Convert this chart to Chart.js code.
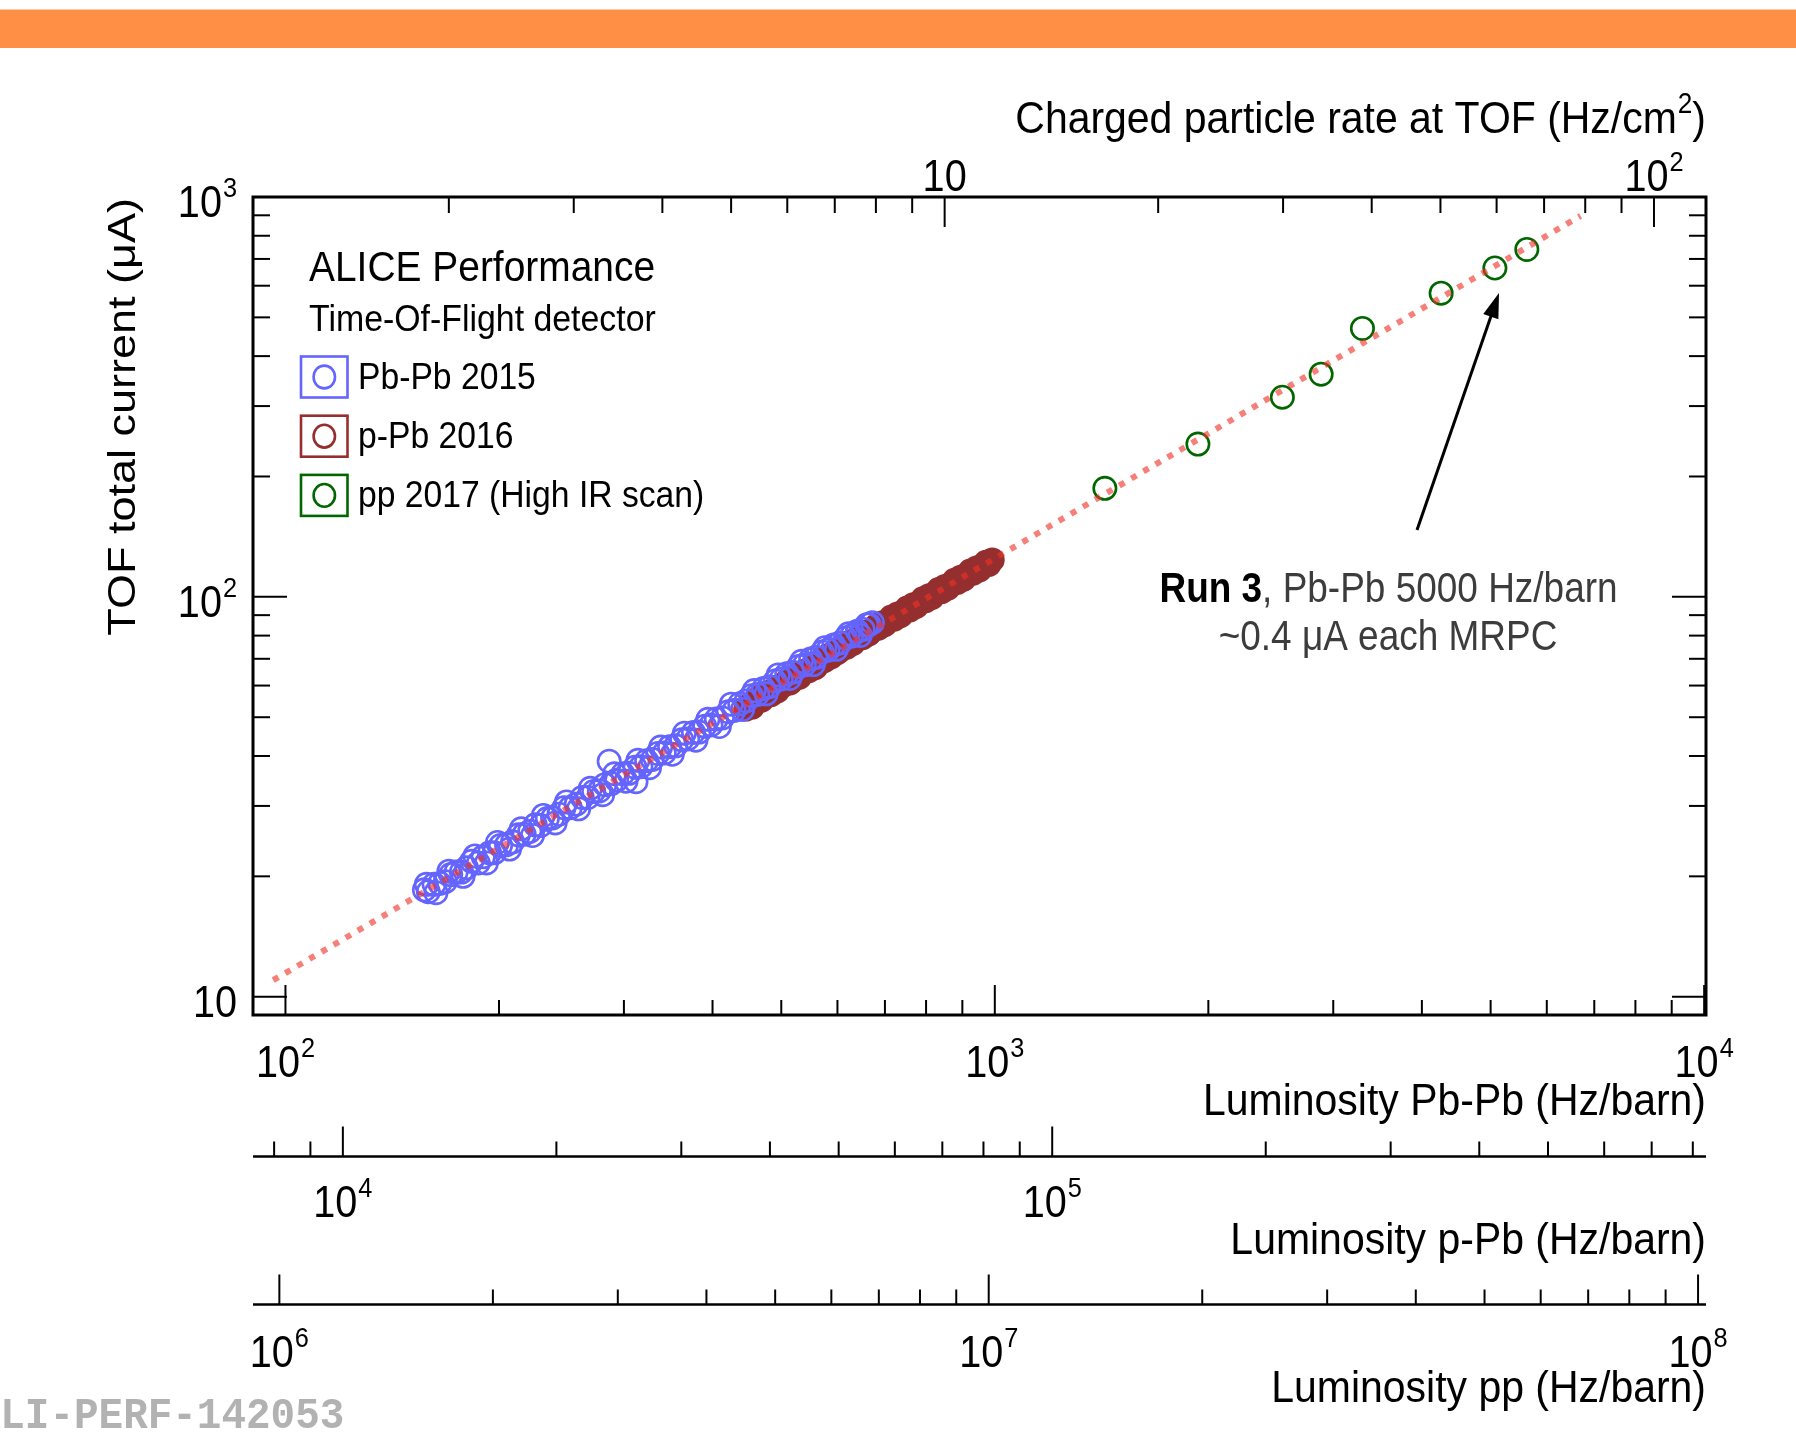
<!DOCTYPE html>
<html>
<head>
<meta charset="utf-8">
<script src="https://cdn.jsdelivr.net/npm/chart.js@4.4.1/dist/chart.umd.min.js"></script>
<style>
html,body{margin:0;padding:0;background:#ffffff;}
#wrap{position:relative;width:1796px;height:1437px;overflow:hidden;}
canvas{display:block;}
</style>
</head>
<body>
<div id="wrap"><canvas id="c" width="1796" height="1437"></canvas></div>
<script>
// ---------------- DATA ----------------
// Pb-Pb 2015: luminosity (Hz/barn) vs TOF total current (uA)
const pbpbLumi = [157,159,162,165,168,171,174,177,180,183,187,190,194,197,201,205,209,213,217,221,225,229,234,238,243,247,252,257,262,267,272,277,282,286,288,293,299,305,311,312,317,323,329,335,342,348,355,362,369,376,383,390,398,405,413,421,429,437,446,454,463,472,481,490,500,509,519,529,539,550,560,571,582,593,605,616,628,640,652,665,672,
  158,163,170,178,185,192,199,207,215,223,231,240,249,259,269,280,291,302,314,326,338,351,365,379,394,409,425,441,458,476,495,514,534,555,576,598,622,646,660];
const pbpbCurrent = [18.5,18.3,19.1,19.2,19.4,20.2,20.5,20.5,21.0,21.8,21.6,22.4,22.9,22.9,23.9,24.0,24.4,25.4,25.5,25.9,26.9,26.8,27.9,28.0,28.6,29.7,29.7,30.3,31.5,31.5,32.6,32.7,33.9,38.8,34.1,34.8,36.1,36.2,37.5,34.5,37.6,38.9,39.2,40.6,40.7,42.2,42.4,43.9,44.1,45.8,45.9,47.5,47.8,49.5,49.8,51.6,52.0,54.0,54.9,56.6,57.0,59.0,59.6,61.6,62.3,64.2,64.8,67.0,67.6,69.9,70.6,72.8,73.6,75.8,76.7,78.9,79.8,82.0,82.9,85.2,86.2,
  19.1,18.2,20.6,20.0,22.5,21.6,24.3,23.4,26.3,25.3,28.4,27.2,30.7,29.5,33.2,32.0,36.1,34.6,39.0,37.4,42.1,40.4,45.6,43.8,49.4,47.4,53.9,52.3,58.3,57.2,63.8,62.5,69.0,67.7,74.6,73.9,80.8,80.1,85.1];

// p-Pb 2016: luminosity (Hz/barn) vs current (uA)
const ppbLumi = [37000,37380,37770,38160,38550,38950,39350,39750,40160,40580,41000,41420,41850,42280,42710,43150,43600,44050,44500,44960,45420,45890,46360,46840,47320,47810,48300,48800,49300,49810,50320,50840,51360,51890,52420,52960,53510,54060,54620,55180,55750,56330,56910,57490,58090,58690,59290,59900,60520,61140,61770,62410,63050,63700,64360,65020,65690,66370,67050,67740,68440,69150,69860,70580,71310,72040,72790,73540,74290,75060,75830,76610,77400,78200,79010,79820,80640,81470,82310];
const ppbCurrent = [52.4,53.5,53.0,54.6,55.9,55.2,56.4,57.6,56.9,58.7,58.2,59.9,60.2,61.6,60.9,62.0,63.5,63.0,64.9,65.3,65.4,67.0,66.5,68.6,68.9,69.3,71.2,70.8,72.9,72.5,73.7,75.4,74.9,77.1,76.5,78.3,79.9,79.0,81.6,80.8,82.6,84.3,83.5,86.0,85.2,87.1,89.0,88.0,90.6,89.7,91.8,93.8,92.8,95.5,94.6,96.8,98.9,97.8,100.7,99.7,102.1,104.3,103.1,106.2,105.1,107.7,110.0,108.7,112.0,110.8,113.6,116.0,114.6,118.0,116.8,119.8,122.0,120.6,123.7];

// pp 2017 (High IR scan): luminosity (Hz/barn) vs current (uA)
const ppLumi = [1.458e7,1.972e7,2.594e7,2.942e7,3.364e7,4.343e7,5.171e7,5.736e7];
const ppCurrent = [186.8,241.0,315.7,360.5,469.2,574.8,664.5,739.4];

// dotted fit line (Pb-Pb luminosity scale)
const fitLumi = [96.1, 6694];
const fitCurrent = [11.0, 896.6];

// axis ranges
const yRange = [9, 1000];
const pbpbRange = [90, 10060];
const ppbRange = [7470, 835000];
const ppRange = [9.18e5, 1.0261e8];
const rateRange = [1.0591, 118.4];

// ticks and tick labels
const yTickValues = [10, 100, 1000];
const yTickLabels = ['10', '10^2', '10^3'];
const yMinorTicks = [20,30,40,50,60,70,80,90,200,300,400,500,600,700,800,900];
const rateTickValues = [10, 100];
const rateTickLabels = ['10', '10^2'];
const rateMinorTicks = [2,3,4,5,6,7,8,9,20,30,40,50,60,70,80,90];
const pbpbTickValues = [100, 1000, 10000];
const pbpbTickLabels = ['10^2', '10^3', '10^4'];
const pbpbMinorTicks = [200,300,400,500,600,700,800,900,2000,3000,4000,5000,6000,7000,8000,9000];
const ppbTickValues = [1e4, 1e5];
const ppbTickLabels = ['10^4', '10^5'];
const ppbMinorTicks = [8000,9000,2e4,3e4,4e4,5e4,6e4,7e4,8e4,9e4,2e5,3e5,4e5,5e5,6e5,7e5,8e5];
const ppTickValues = [1e6, 1e7, 1e8];
const ppTickLabels = ['10^6', '10^7', '10^8'];
const ppMinorTicks = [2e6,3e6,4e6,5e6,6e6,7e6,8e6,9e6,2e7,3e7,4e7,5e7,6e7,7e7,8e7,9e7];

const seriesNames = ['Pb-Pb 2015', 'p-Pb 2016', 'pp 2017 (High IR scan)'];
const seriesColors = ['#6464ff', '#952f2f', '#006600'];

// ---------------- drawing helpers ----------------
const SANS = '"Liberation Sans", Arial, Helvetica, sans-serif';
const MONO = '"Liberation Mono", "DejaVu Sans Mono", monospace';

function parseLabel(s) {
  const p = s.split('^');
  const r = [{t: p[0]}];
  if (p[1]) r.push({t: p[1], sup: true});
  return r;
}
function drawRuns(ctx, runs, x, y, o) {
  const size = o.size, q = (o.q === undefined ? 0.9 : o.q), fam = o.family || SANS;
  ctx.save();
  ctx.textBaseline = 'alphabetic';
  ctx.textAlign = 'left';
  const fontFor = r => (r.bold ? 'bold ' : (o.bold ? 'bold ' : '')) + (r.sup ? size * 0.64 : size) + 'px ' + fam;
  let total = 0;
  const ws = runs.map(r => {
    ctx.font = fontFor(r);
    const w = ctx.measureText(r.t).width * q + (r.sup ? 1 : 0);
    total += w;
    return w;
  });
  let cx = o.align === 'right' ? x - total : (o.align === 'center' ? x - total / 2 : x);
  runs.forEach((r, i) => {
    ctx.font = fontFor(r);
    ctx.fillStyle = r.color || o.color || '#000';
    ctx.save();
    ctx.translate(cx + (r.sup ? 1 : 0), y - (r.sup ? size * 0.45 : 0));
    ctx.scale(q, 1);
    ctx.fillText(r.t, 0, 0);
    ctx.restore();
    cx += ws[i];
  });
  ctx.restore();
}
function line(ctx, x1, y1, x2, y2) {
  ctx.beginPath(); ctx.moveTo(x1, y1); ctx.lineTo(x2, y2); ctx.stroke();
}

const decorPlugin = {
  id: 'decor',
  beforeDraw(chart) {
    const ctx = chart.ctx;
    ctx.save();
    ctx.fillStyle = '#ffffff';
    ctx.fillRect(0, 0, chart.width, chart.height);
    ctx.fillStyle = '#ff8f45';
    ctx.fillRect(0, 9.5, chart.width, 38.5);
    ctx.restore();
  },
  afterDraw(chart) {
    const ctx = chart.ctx, a = chart.chartArea, s = chart.scales;
    ctx.save();
    ctx.strokeStyle = '#000';
    ctx.lineCap = 'butt';

    // frame
    ctx.lineWidth = 3;
    ctx.strokeRect(a.left, a.top, a.right - a.left, a.bottom - a.top);

    ctx.lineWidth = 2;
    // y ticks (left & right)
    yMinorTicks.forEach(v => { const p = s.y.getPixelForValue(v); line(ctx, a.left, p, a.left + 17, p); line(ctx, a.right, p, a.right - 17, p); });
    yTickValues.forEach(v => { const p = s.y.getPixelForValue(v); line(ctx, a.left, p, a.left + 34, p); line(ctx, a.right, p, a.right - 34, p); });
    // top (rate) ticks
    rateMinorTicks.forEach(v => { const p = s.xtop.getPixelForValue(v); line(ctx, p, a.top, p, a.top + 16); });
    rateTickValues.forEach(v => { const p = s.xtop.getPixelForValue(v); line(ctx, p, a.top, p, a.top + 30); });
    // bottom frame (Pb-Pb) ticks
    pbpbMinorTicks.forEach(v => { const p = s.x.getPixelForValue(v); line(ctx, p, a.bottom, p, a.bottom - 15); });
    pbpbTickValues.forEach(v => { const p = s.x.getPixelForValue(v); line(ctx, p, a.bottom, p, a.bottom - 30); });

    // extra axes
    const yPPb = 1156.5, yPP = 1304.5;
    ctx.lineWidth = 2.5;
    line(ctx, a.left, yPPb, a.right, yPPb);
    line(ctx, a.left, yPP, a.right, yPP);
    ctx.lineWidth = 2;
    ppbMinorTicks.forEach(v => { const p = s.xppb.getPixelForValue(v); line(ctx, p, yPPb, p, yPPb - 15); });
    ppbTickValues.forEach(v => { const p = s.xppb.getPixelForValue(v); line(ctx, p, yPPb, p, yPPb - 30); });
    ppMinorTicks.forEach(v => { const p = s.xpp.getPixelForValue(v); line(ctx, p, yPP, p, yPP - 15); });
    ppTickValues.forEach(v => { const p = s.xpp.getPixelForValue(v); line(ctx, p, yPP, p, yPP - 30); });

    // tick labels
    const LS = 44;
    yTickValues.forEach((v, i) => drawRuns(ctx, parseLabel(yTickLabels[i]), 237, s.y.getPixelForValue(v) + 20, {size: LS, align: 'right'}));
    rateTickValues.forEach((v, i) => drawRuns(ctx, parseLabel(rateTickLabels[i]), s.xtop.getPixelForValue(v), 191, {size: LS, align: 'center'}));
    pbpbTickValues.forEach((v, i) => drawRuns(ctx, parseLabel(pbpbTickLabels[i]), s.x.getPixelForValue(v), 1077, {size: LS, align: 'center'}));
    ppbTickValues.forEach((v, i) => drawRuns(ctx, parseLabel(ppbTickLabels[i]), s.xppb.getPixelForValue(v), 1217, {size: LS, align: 'center'}));
    ppTickValues.forEach((v, i) => drawRuns(ctx, parseLabel(ppTickLabels[i]), s.xpp.getPixelForValue(v), 1367, {size: LS, align: 'center'}));

    // axis titles
    const TS = 45, TQ = 0.91;
    drawRuns(ctx, [{t: 'Charged particle rate at TOF (Hz/cm'}, {t: '2', sup: true}, {t: ')'}], a.right, 133, {size: TS, align: 'right', q: TQ});
    drawRuns(ctx, [{t: 'Luminosity Pb-Pb (Hz/barn)'}], a.right, 1115, {size: TS, align: 'right', q: TQ});
    drawRuns(ctx, [{t: 'Luminosity p-Pb (Hz/barn)'}], a.right, 1253.5, {size: TS, align: 'right', q: TQ});
    drawRuns(ctx, [{t: 'Luminosity pp (Hz/barn)'}], a.right, 1402, {size: TS, align: 'right', q: TQ});

    // y title (rotated)
    ctx.save();
    ctx.translate(135, 198);
    ctx.rotate(-Math.PI / 2);
    ctx.scale(1, 0.88);
    ctx.font = '45px ' + SANS;
    ctx.fillStyle = '#000';
    ctx.textAlign = 'right';
    ctx.textBaseline = 'alphabetic';
    ctx.fillText('TOF total current (\u03bcA)', 0, 0);
    ctx.restore();

    // header texts
    drawRuns(ctx, [{t: 'ALICE Performance'}], 309, 281, {size: 43, q: 0.905});
    drawRuns(ctx, [{t: 'Time-Of-Flight detector'}], 309, 331, {size: 37, q: 0.915});

    // legend
    const legY = [377, 436.2, 495.4];
    seriesNames.forEach((n, i) => {
      const cy = legY[i];
      ctx.strokeStyle = seriesColors[i];
      ctx.lineWidth = 2.6;
      ctx.strokeRect(301, cy - 20.5, 46.5, 41);
      ctx.beginPath();
      ctx.ellipse(324.3, cy, 10.7, 11.4, 0, 0, Math.PI * 2);
      ctx.stroke();
      drawRuns(ctx, [{t: n}], 358, cy + 12, {size: 37, q: 0.91});
    });

    // annotation
    drawRuns(ctx, [{t: 'Run 3', bold: true, color: '#000'}, {t: ', Pb-Pb 5000 Hz/barn', color: '#3c3c3c'}], 1388.5, 601.7, {size: 42, align: 'center', q: 0.88});
    drawRuns(ctx, [{t: '~0.4 \u03bcA each MRPC', color: '#3c3c3c'}], 1388, 650, {size: 42, align: 'center', q: 0.88});

    // arrow
    const tx = 1499, ty = 293, fx = 1417, fy = 530;
    const ang = Math.atan2(ty - fy, tx - fx);
    ctx.strokeStyle = '#000';
    ctx.fillStyle = '#000';
    ctx.lineWidth = 3;
    line(ctx, fx, fy, tx - 18 * Math.cos(ang), ty - 18 * Math.sin(ang));
    ctx.beginPath();
    ctx.moveTo(tx, ty);
    ctx.lineTo(tx - 25 * Math.cos(ang) + 8 * Math.sin(ang), ty - 25 * Math.sin(ang) - 8 * Math.cos(ang));
    ctx.lineTo(tx - 25 * Math.cos(ang) - 8 * Math.sin(ang), ty - 25 * Math.sin(ang) + 8 * Math.cos(ang));
    ctx.closePath();
    ctx.fill();

    // watermark
    drawRuns(ctx, [{t: 'ALI-PERF-142053'}], -24.3, 1428, {size: 45, family: MONO, bold: true, color: '#b2b2b2', q: 0.91});

    ctx.restore();
  }
};

const toXY = (xs, ys) => xs.map((x, i) => ({x: x, y: ys[i]}));
const logAxis = (axis, pos, r) => ({type: 'logarithmic', axis: axis, position: pos, min: r[0], max: r[1], display: false});

new Chart(document.getElementById('c'), {
  type: 'scatter',
  data: {
    datasets: [
      {
        type: 'line', label: 'fit', data: toXY(fitLumi, fitCurrent), xAxisID: 'x', yAxisID: 'y',
        borderColor: 'rgba(240,50,38,0.62)', borderWidth: 6, borderDash: [6, 8], borderCapStyle: 'butt',
        pointRadius: 0, fill: false, tension: 0, order: 0
      },
      {
        label: seriesNames[0], data: toXY(pbpbLumi, pbpbCurrent), xAxisID: 'x', yAxisID: 'y',
        pointStyle: 'circle', pointRadius: 11.2, pointBorderWidth: 2.6,
        borderColor: seriesColors[0], backgroundColor: 'rgba(0,0,0,0)',
        pointBorderColor: seriesColors[0], pointBackgroundColor: 'rgba(0,0,0,0)', order: 1
      },
      {
        label: seriesNames[1], data: toXY(ppbLumi, ppbCurrent), xAxisID: 'xppb', yAxisID: 'y',
        pointStyle: 'circle', pointRadius: 11.2, pointBorderWidth: 2.6,
        borderColor: seriesColors[1], backgroundColor: seriesColors[1],
        pointBorderColor: seriesColors[1], pointBackgroundColor: seriesColors[1], order: 2
      },
      {
        label: seriesNames[2], data: toXY(ppLumi, ppCurrent), xAxisID: 'xpp', yAxisID: 'y',
        pointStyle: 'circle', pointRadius: 11.2, pointBorderWidth: 2.6,
        borderColor: seriesColors[2], backgroundColor: 'rgba(0,0,0,0)',
        pointBorderColor: seriesColors[2], pointBackgroundColor: 'rgba(0,0,0,0)', order: 3
      }
    ]
  },
  options: {
    responsive: false,
    animation: false,
    devicePixelRatio: 1,
    events: [],
    layout: {padding: {left: 253, top: 197, right: 90, bottom: 422}},
    plugins: {legend: {display: false}, tooltip: {enabled: false}, title: {display: false}},
    scales: {
      x: logAxis('x', 'bottom', pbpbRange),
      xppb: logAxis('x', 'bottom', ppbRange),
      xpp: logAxis('x', 'bottom', ppRange),
      xtop: logAxis('x', 'top', rateRange),
      y: {type: 'logarithmic', axis: 'y', position: 'left', min: yRange[0], max: yRange[1], display: false}
    }
  },
  plugins: [decorPlugin]
});
</script>
</body>
</html>
